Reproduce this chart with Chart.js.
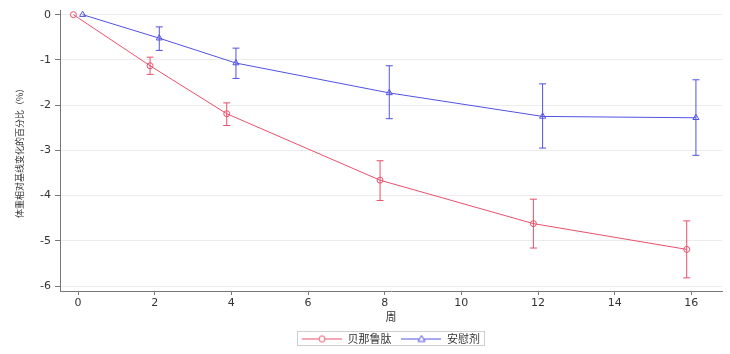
<!DOCTYPE html>
<html>
<head>
<meta charset="utf-8">
<script src="https://cdn.jsdelivr.net/npm/chart.js@4"></script>
<style>
  body { margin: 0; background: #fff; }
</style>
</head>
<body>
<canvas id="weightChart" width="730" height="354"></canvas>
<script>
// 周数与各组数据
const weeks = [0, 2, 4, 8, 12, 16];

const drugName = "贝那鲁肽";
const drugMean = [0, -1.13, -2.19, -3.66, -4.62, -5.19];
const drugLow  = [null, -1.32, -2.45, -4.11, -5.16, -5.82];
const drugHigh = [null, -0.94, -1.95, -3.23, -4.08, -4.56];

const placeboName = "安慰剂";
const placeboMean = [0, -0.52, -1.07, -1.73, -2.25, -2.28];
const placeboLow  = [null, -0.79, -1.41, -2.30, -2.95, -3.11];
const placeboHigh = [null, -0.27, -0.74, -1.13, -1.53, -1.44];

const xTicks = [0, 2, 4, 6, 8, 10, 12, 14, 16];
const yTicks = [0, -1, -2, -3, -4, -5, -6];

const red = "#E8506C";
const blue = "#5252E4";
const dodge = 0.12;

const font = "'DejaVu Sans', 'Noto Sans CJK SC', sans-serif";
const cjkFont = "'Noto Sans CJK SC', sans-serif";

function legendIcon(color, shape) {
    const c = document.createElement("canvas");
    c.width = 40;
    c.height = 10;
    const ctx = c.getContext("2d");
    ctx.strokeStyle = color;
    ctx.lineWidth = 1;
    ctx.beginPath();
    ctx.moveTo(0, 5.5);
    ctx.lineTo(40, 5.5);
    ctx.stroke();
    ctx.fillStyle = "#fff";
    ctx.beginPath();
    if (shape === "circle") {
        ctx.arc(20, 5.5, 3, 0, Math.PI * 2);
    } else {
        ctx.moveTo(20, 2);
        ctx.lineTo(23.5, 8);
        ctx.lineTo(16.5, 8);
        ctx.closePath();
    }
    ctx.fill();
    ctx.stroke();
    return c;
}

const errorBars = {
    id: "errorBars",
    afterDatasetsDraw(chart) {
        const ctx = chart.ctx;
        const xs = chart.scales.x;
        const ys = chart.scales.y;
        chart.data.datasets.forEach(ds => {
            ctx.save();
            ctx.strokeStyle = ds.borderColor;
            ctx.lineWidth = 1;
            ds.data.forEach((p, i) => {
                if (ds.low[i] === null) return;
                const x = xs.getPixelForValue(p.x);
                const y1 = ys.getPixelForValue(ds.low[i]);
                const y2 = ys.getPixelForValue(ds.high[i]);
                ctx.beginPath();
                ctx.moveTo(x, y1);
                ctx.lineTo(x, y2);
                ctx.moveTo(x - 3.5, y1);
                ctx.lineTo(x + 3.5, y1);
                ctx.moveTo(x - 3.5, y2);
                ctx.lineTo(x + 3.5, y2);
                ctx.stroke();
            });
            ctx.restore();
        });
    }
};

const legendBorder = {
    id: "legendBorder",
    afterDraw(chart) {
        const boxes = chart.legend.legendHitBoxes;
        if (!boxes || !boxes.length) return;
        const first = boxes[0];
        const last = boxes[boxes.length - 1];
        const ctx = chart.ctx;
        ctx.save();
        ctx.strokeStyle = "#cfcfcf";
        ctx.lineWidth = 1;
        const l = Math.round(first.left - 5) + 0.5;
        const r = Math.round(last.left + last.width + 4) + 0.5;
        const t = Math.round(first.top - 2) + 0.5;
        const b = Math.round(first.top + first.height + 1) + 0.5;
        ctx.strokeRect(l, t, r - l, b - t);
        ctx.restore();
    }
};

new Chart(
document.getElementById("weightChart"),
{
    type: "line",

    data: {
        datasets: [{
            label: drugName,
            data: weeks.map((w, i) => ({ x: w - dodge, y: drugMean[i] })),
            low: drugLow,
            high: drugHigh,
            borderColor: red,
            borderWidth: 1,
            pointStyle: "circle",
            pointRadius: 3,
            pointBorderWidth: 1,
            pointBackgroundColor: "rgba(0,0,0,0)",
            pointBorderColor: red,
            tension: 0
        }, {
            label: placeboName,
            data: weeks.map((w, i) => ({ x: w + dodge, y: placeboMean[i] })),
            low: placeboLow,
            high: placeboHigh,
            borderColor: blue,
            borderWidth: 1,
            pointStyle: "triangle",
            pointRadius: 3.5,
            pointBorderWidth: 1,
            pointBackgroundColor: "rgba(0,0,0,0)",
            pointBorderColor: blue,
            tension: 0
        }]
    },

    options: {
        responsive: false,
        animation: false,
        devicePixelRatio: 1,
        layout: {
            padding: { top: 10, right: 8, left: 0, bottom: 0 }
        },
        plugins: {
            tooltip: { enabled: false },
            legend: {
                position: "bottom",
                fullSize: false,
                labels: {
                    usePointStyle: true,
                    pointStyleWidth: 40,
                    padding: 10,
                    color: "#333",
                    font: { family: cjkFont, size: 11 },
                    generateLabels(chart) {
                        return chart.data.datasets.map((ds, i) => ({
                            text: ds.label,
                            pointStyle: legendIcon(ds.borderColor, i === 0 ? "circle" : "triangle"),
                            fillStyle: ds.borderColor,
                            strokeStyle: ds.borderColor,
                            lineWidth: 0,
                            hidden: false,
                            datasetIndex: i,
                            fontColor: "#333"
                        }));
                    }
                }
            }
        },
        scales: {
            x: {
                type: "linear",
                min: -0.47,
                max: 16.8,
                afterBuildTicks(axis) {
                    axis.ticks = xTicks.map(v => ({ value: v }));
                },
                afterFit(axis) {
                    axis.height = 32;
                },
                grid: {
                    display: true,
                    drawOnChartArea: false,
                    drawTicks: true,
                    tickLength: 4,
                    color: "#777"
                },
                border: { display: true, color: "#777", width: 1 },
                ticks: {
                    color: "#333",
                    font: { family: font, size: 11 },
                    padding: 2,
                    maxRotation: 0
                },
                title: {
                    display: true,
                    text: "周",
                    color: "#333",
                    font: { family: cjkFont, size: 11 },
                    padding: { top: 0, bottom: 0 }
                }
            },
            y: {
                min: -6.11,
                max: 0.09,
                afterBuildTicks(axis) {
                    axis.ticks = yTicks.map(v => ({ value: v }));
                },
                afterFit(axis) {
                    axis.width = 60;
                },
                grid: {
                    color: "#ececec",
                    tickLength: 5,
                    tickColor: "#777"
                },
                border: { display: true, color: "#777", width: 1 },
                ticks: {
                    color: "#333",
                    font: { family: font, size: 11 },
                    padding: 4
                },
                title: {
                    display: true,
                    text: "体重相对基线变化的百分比（%）",
                    color: "#333",
                    font: { family: cjkFont, size: 9 },
                    padding: { top: 14, bottom: 0 }
                }
            }
        }
    },
    plugins: [errorBars, legendBorder]
});
</script>
</body>
</html>
